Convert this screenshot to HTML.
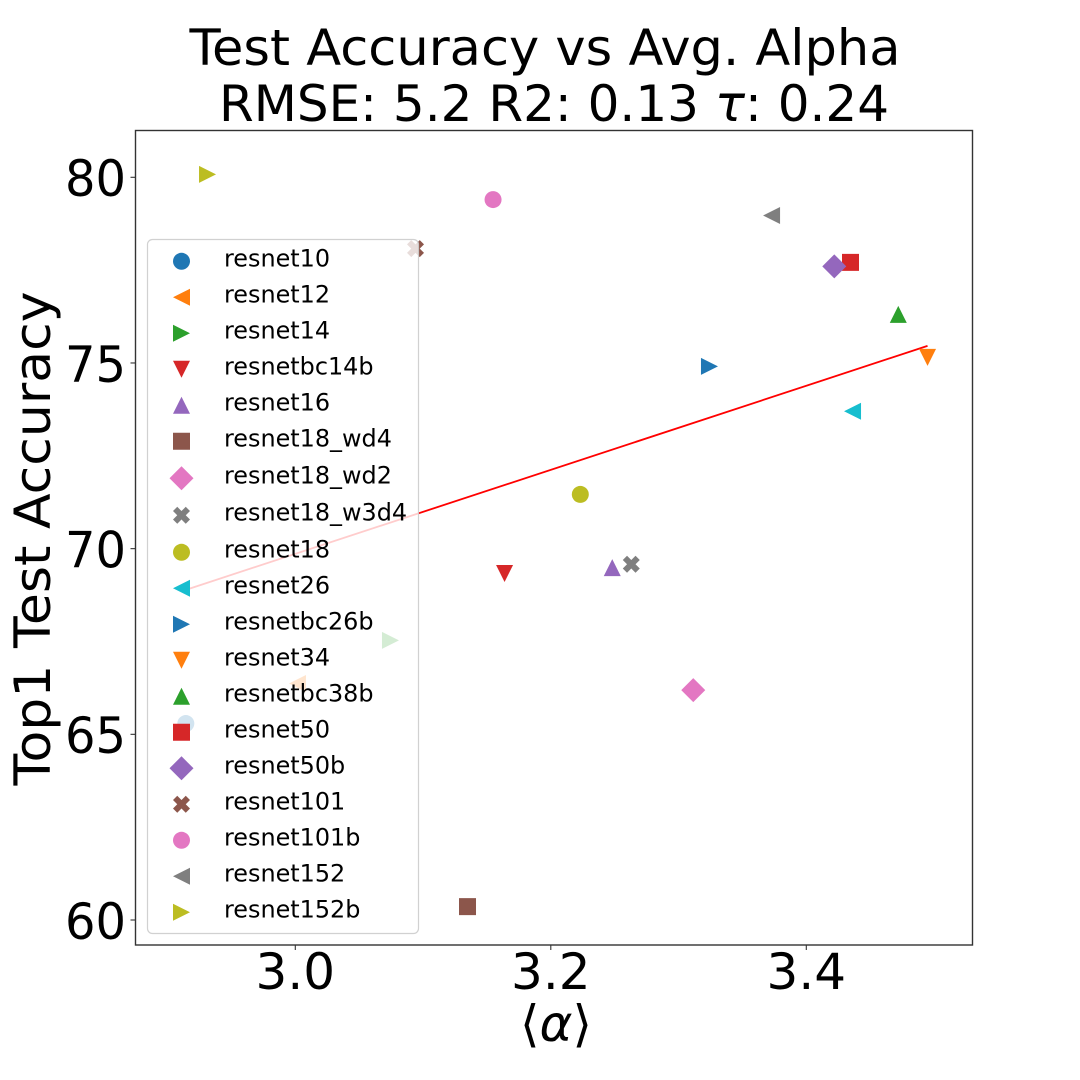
<!DOCTYPE html>
<html>
<head>
<meta charset="utf-8">
<title>Test Accuracy vs Avg. Alpha</title>
<style>
html,body{margin:0;padding:0;background:#fff;width:1080px;height:1080px;overflow:hidden}
svg{display:block}
text{font-family:"DejaVu Sans","Liberation Sans",sans-serif;fill:#000}
</style>
</head>
<body>
<svg id="chart" xmlns="http://www.w3.org/2000/svg" width="1080" height="1080" viewBox="0 0 1080 1080">
  <rect width="1080" height="1080" fill="#fff"/>
  <text x="545" y="65" font-size="50" text-anchor="middle" textLength="711" lengthAdjust="spacingAndGlyphs">Test Accuracy vs Avg. Alpha</text>
  <text x="554" y="121" font-size="50" text-anchor="middle">RMSE: 5.2 R2: 0.13 <tspan font-style="italic">τ</tspan>: 0.24</text>
  <text transform="translate(50,538.5) rotate(-90)" font-size="50" text-anchor="middle" textLength="494" lengthAdjust="spacingAndGlyphs">Top1 Test Accuracy</text>
  <text x="556" y="1041" font-size="50" text-anchor="middle">⟨<tspan font-style="italic">α</tspan>⟩</text>
  <g id="plot"></g>
</svg>
<script>
const categories = ['resnet10','resnet12','resnet14','resnetbc14b','resnet16','resnet18_wd4','resnet18_wd2','resnet18_w3d4','resnet18','resnet26','resnetbc26b','resnet34','resnetbc38b','resnet50','resnet50b','resnet101','resnet101b','resnet152','resnet152b'];
const alphaValues = [2.9143,3.0017,3.0745,3.1638,3.2481,3.1348,3.3115,3.2630,3.2231,3.4362,3.3242,3.4949,3.4720,3.4346,3.4219,3.0941,3.1548,3.3728,2.9313];
const accuracyValues = [65.29,66.37,67.53,69.33,69.49,60.36,66.19,69.58,71.46,73.70,74.91,75.15,76.31,77.71,77.60,78.08,79.40,78.97,80.08];
const fitAlpha = [2.9143,3.4949];
const fitAccuracy = [68.89,75.46];
const xTicks = [3.0,3.2,3.4];
const xTickLabels = ['3.0','3.2','3.4'];
const yTicks = [60,65,70,75,80];
const yTickLabels = ['60','65','70','75','80'];
const markerCycle = ['o','<','>','v','^','s','D','X'];
const colorCycle = ['#1f77b4','#ff7f0e','#2ca02c','#d62728','#9467bd','#8c564b','#e377c2','#7f7f7f','#bcbd22','#17becf'];

const NS = 'http://www.w3.org/2000/svg';
const plot = document.getElementById('plot');
const xScale = v => 295.3 + (v - 3) * 1277.5;
const yScale = v => 177.3 + (80 - v) * 37.135;

function make(tag, attrs, parent) {
  const el = document.createElementNS(NS, tag);
  for (const k in attrs) el.setAttribute(k, attrs[k]);
  parent.appendChild(el);
  return el;
}

function drawMarker(kind, cx, cy, color, parent) {
  const s = 8.5;
  if (kind === 'o') {
    return make('circle', {cx: cx, cy: cy, r: s, fill: color}, parent);
  }
  let pts;
  if (kind === '<') pts = [[-s,0],[s,-s],[s,s]];
  if (kind === '>') pts = [[s,0],[-s,-s],[-s,s]];
  if (kind === 'v') pts = [[0,s],[-s,-s],[s,-s]];
  if (kind === '^') pts = [[0,-s],[-s,s],[s,s]];
  if (kind === 's') pts = [[-s,-s],[s,-s],[s,s],[-s,s]];
  if (kind === 'D') pts = [[0,-12],[12,0],[0,12],[-12,0]];
  if (kind === 'X') {
    const u = s / 2;
    pts = [[-1,-2],[0,-1],[1,-2],[2,-1],[1,0],[2,1],[1,2],[0,1],[-1,2],[-2,1],[-1,0],[-2,-1]].map(p => [p[0]*u, p[1]*u]);
  }
  return make('polygon', {points: pts.map(p => (cx+p[0]) + ',' + (cy+p[1])).join(' '), fill: color}, parent);
}

const frameLeft = 135.5, frameRight = 972.5, frameTop = 130.5, frameBottom = 945;

const fitLine = make('line', {x1: xScale(fitAlpha[0]), y1: yScale(fitAccuracy[0]), x2: xScale(fitAlpha[1]), y2: yScale(fitAccuracy[1]), stroke: '#ff0000', 'stroke-width': 1.8}, plot);



categories.forEach((name, i) => {
  const m = drawMarker(markerCycle[i % markerCycle.length], xScale(alphaValues[i]), yScale(accuracyValues[i]), colorCycle[i % colorCycle.length], plot);
  
  
});

const frame = make('rect', {x: frameLeft, y: frameTop, width: frameRight - frameLeft, height: frameBottom - frameTop, fill: 'none', stroke: '#333', 'stroke-width': 1.4}, plot);



xTicks.forEach((v, i) => {
  const x = xScale(v);
  const t = make('line', {x1: x, x2: x, y1: frameBottom, y2: frameBottom + 5, stroke: '#333', 'stroke-width': 1.1}, plot);
  
  
  const l = make('text', {x: x, y: 989, 'font-size': 50, 'text-anchor': 'middle'}, plot);
  l.textContent = xTickLabels[i];
  
  
});

yTicks.forEach((v, i) => {
  const y = yScale(v);
  const t = make('line', {x1: frameLeft - 5, x2: frameLeft, y1: y, y2: y, stroke: '#333', 'stroke-width': 1.1}, plot);
  
  
  const l = make('text', {x: 126, y: y + 18.9, 'font-size': 50, 'text-anchor': 'end', textLength: 61, lengthAdjust: 'spacingAndGlyphs'}, plot);
  l.textContent = yTickLabels[i];
  
  
});

const legend = make('g', {}, plot);


const legendBox = make('rect', {x: 147.5, y: 239.5, width: 271, height: 694, rx: 5, ry: 5, fill: '#fff', 'fill-opacity': 0.8, stroke: '#ccc', 'stroke-opacity': 0.9, 'stroke-width': 1.2}, legend);


categories.forEach((name, i) => {
  const cy = 261.3 + i * 36 + Math.min(3, Math.max(0, i - 5));
  const row = make('g', {}, legend);
  
  
  const m = drawMarker(markerCycle[i % markerCycle.length], 181.5, cy, colorCycle[i % colorCycle.length], row);
  
  
  const l = make('text', {x: 224, y: cy + 5.3, 'font-size': 23.9}, row);
  l.textContent = name;
  
  
});
</script>
</body>
</html>
